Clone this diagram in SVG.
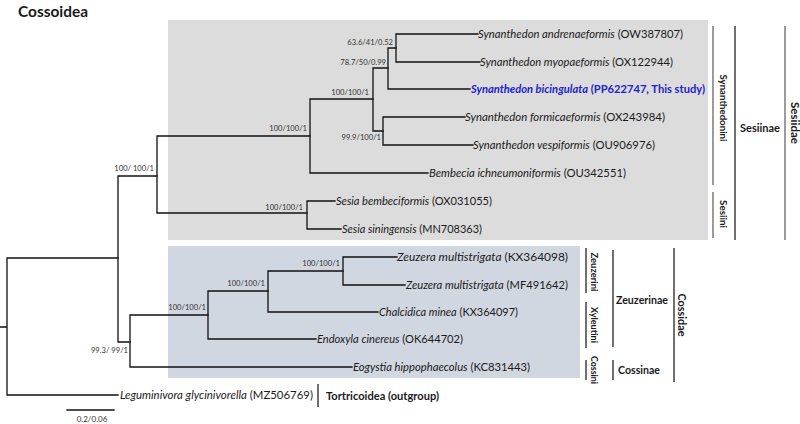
<svg xmlns="http://www.w3.org/2000/svg" width="800" height="424" viewBox="0 0 800 424">
<style>
text{font-family:Lato,"Open Sans","Liberation Sans",sans-serif;fill:#1a1a1a}
.leaf{font-size:11.3px}
.sp{font-style:italic}
.sup{font-size:7.6px;fill:#333}
.grp{font-size:11.5px;font-weight:bold}
.trb{font-size:9.5px;font-weight:bold}
.edge{stroke:#111;stroke-width:1.3;fill:none;stroke-linecap:square}
.bar{stroke:#222;stroke-width:1.3}
.barg{stroke:#666;stroke-width:1.3}
</style>
<rect x="0" y="0" width="800" height="424" fill="#fff"/>
<text x="18" y="17" style="font-size:15.5px;font-weight:bold" textLength="70" lengthAdjust="spacingAndGlyphs">Cossoidea</text>
<rect id="box-sesiidae" x="168" y="20" width="540" height="220" fill="#dcdcdc"/>
<rect id="box-cossidae" x="168" y="246" width="412" height="132" fill="#d1d7e1"/>

<g id="connectors" class="edge">
<path d="M0,327H7M7,258V395M7,258H118M7,395H118"/>
<path d="M118,176V342M118,176H157M118,342H130"/>
<path d="M157,136V213M157,136H310M157,213H307"/>
<path d="M310,99V173M310,99H373M310,173H428"/>
<path d="M373,68V131M373,68H388M373,131H383"/>
<path d="M388,48V89M388,48H396M388,89H470"/>
<path d="M396,34V62M396,34H478M396,62H480"/>
<path d="M383,117V145M383,117H465M383,145H473"/>
<path d="M307,201V229M307,201H335M307,229H341"/>
<path d="M130,315V367M130,315H208M130,367H352"/>
<path d="M208,291V339M208,291H268M208,339H316"/>
<path d="M268,271V312M268,271H343M268,312H378"/>
<path d="M343,257V285M343,257H397M343,285H405"/>
<path d="M67,410H114"/>
</g>

<g id="support-labels">
<text class="sup" x="393" y="45" text-anchor="end">63.6/41/0.52</text>
<text class="sup" x="386" y="65" text-anchor="end">78.7/50/0.99</text>
<text class="sup" x="369" y="95" text-anchor="end">100/100/1</text>
<text class="sup" x="381" y="140" text-anchor="end">99.9/100/1</text>
<text class="sup" x="307" y="131" text-anchor="end">100/100/1</text>
<text class="sup" x="154" y="171" text-anchor="end">100/ 100/1</text>
<text class="sup" x="303" y="210" text-anchor="end">100/100/1</text>
<text class="sup" x="340" y="266" text-anchor="end">100/100/1</text>
<text class="sup" x="265" y="286" text-anchor="end">100/100/1</text>
<text class="sup" x="206" y="310" text-anchor="end">100/100/1</text>
<text class="sup" x="128" y="353" text-anchor="end">99.3/ 99/1</text>
<text class="sup" x="92" y="422" text-anchor="middle" style="font-size:8px">0.2/0.06</text>
</g>

<g id="leaf-andrenaeformis"><text class="leaf" x="478" y="38" textLength="205" lengthAdjust="spacingAndGlyphs"><tspan class="sp">Synanthedon andrenaeformis</tspan> (OW387807)</text></g>
<g id="leaf-myopaeformis"><text class="leaf" x="480" y="66" textLength="193" lengthAdjust="spacingAndGlyphs"><tspan class="sp">Synanthedon myopaeformis</tspan> (OX122944)</text></g>
<g id="leaf-bicingulata"><text class="leaf" x="471" y="93" textLength="234" lengthAdjust="spacingAndGlyphs" style="font-weight:bold;fill:#2222c8"><tspan class="sp">Synanthedon bicingulata</tspan> (PP622747, This study)</text></g>
<g id="leaf-formicaeformis"><text class="leaf" x="465" y="121" textLength="200" lengthAdjust="spacingAndGlyphs"><tspan class="sp">Synanthedon formicaeformis</tspan> (OX243984)</text></g>
<g id="leaf-vespiformis"><text class="leaf" x="473" y="149" textLength="182" lengthAdjust="spacingAndGlyphs"><tspan class="sp">Synanthedon vespiformis</tspan> (OU906976)</text></g>
<g id="leaf-bembecia"><text class="leaf" x="429" y="177" textLength="197" lengthAdjust="spacingAndGlyphs"><tspan class="sp">Bembecia ichneumoniformis</tspan> (OU342551)</text></g>
<g id="leaf-sesia-bembeciformis"><text class="leaf" x="336" y="205" textLength="156" lengthAdjust="spacingAndGlyphs"><tspan class="sp">Sesia bembeciformis</tspan> (OX031055)</text></g>
<g id="leaf-sesia-siningensis"><text class="leaf" x="342" y="233" textLength="140" lengthAdjust="spacingAndGlyphs"><tspan class="sp">Sesia siningensis</tspan> (MN708363)</text></g>
<g id="leaf-zeuzera-1"><text class="leaf" x="397" y="261" textLength="171" lengthAdjust="spacingAndGlyphs"><tspan class="sp">Zeuzera multistrigata</tspan> (KX364098)</text></g>
<g id="leaf-zeuzera-2"><text class="leaf" x="406" y="289" textLength="162" lengthAdjust="spacingAndGlyphs"><tspan class="sp">Zeuzera multistrigata</tspan> (MF491642)</text></g>
<g id="leaf-chalcidica"><text class="leaf" x="379" y="316" textLength="139" lengthAdjust="spacingAndGlyphs"><tspan class="sp">Chalcidica minea</tspan> (KX364097)</text></g>
<g id="leaf-endoxyla"><text class="leaf" x="317" y="343" textLength="146" lengthAdjust="spacingAndGlyphs"><tspan class="sp">Endoxyla cinereus</tspan> (OK644702)</text></g>
<g id="leaf-eogystia"><text class="leaf" x="353" y="371" textLength="177" lengthAdjust="spacingAndGlyphs"><tspan class="sp">Eogystia hippophaecolus</tspan> (KC831443)</text></g>
<g id="leaf-leguminivora"><text class="leaf" x="120" y="399" textLength="193" lengthAdjust="spacingAndGlyphs"><tspan class="sp">Leguminivora glycinivorella</tspan> (MZ506769)</text></g>

<g id="outgroup-label">
<line class="bar" x1="318" y1="384" x2="318" y2="407"/>
<text class="grp" x="326" y="400" textLength="113" lengthAdjust="spacingAndGlyphs">Tortricoidea (outgroup)</text>
</g>

<g id="tribe-synanthedonini">
<line class="barg" x1="713" y1="26" x2="713" y2="185"/>
<text class="trb" transform="translate(723,108) rotate(90)" text-anchor="middle" dominant-baseline="central" textLength="67" lengthAdjust="spacingAndGlyphs">Synanthedonini</text>
</g>
<g id="tribe-sesiini">
<line class="barg" x1="713" y1="192" x2="713" y2="238"/>
<text class="trb" transform="translate(723,214) rotate(90)" text-anchor="middle" dominant-baseline="central" textLength="28" lengthAdjust="spacingAndGlyphs">Sesiini</text>
</g>
<g id="subfamily-sesiinae">
<line class="bar" x1="735" y1="26" x2="735" y2="240"/>
<text class="grp" x="740" y="132" textLength="40" lengthAdjust="spacingAndGlyphs">Sesiinae</text>
</g>
<g id="family-sesiidae">
<line class="barg" x1="785" y1="26" x2="785" y2="240"/>
<text class="grp" transform="translate(795,123) rotate(90)" text-anchor="middle" dominant-baseline="central" textLength="42" lengthAdjust="spacingAndGlyphs">Sesiidae</text>
</g>

<g id="tribe-zeuzerini">
<line class="bar" x1="586" y1="248" x2="586" y2="293"/>
<text class="trb" transform="translate(594,272) rotate(90)" text-anchor="middle" dominant-baseline="central" textLength="39" lengthAdjust="spacingAndGlyphs">Zeuzerini</text>
</g>
<g id="tribe-xyleutini">
<line class="bar" x1="586" y1="302" x2="586" y2="348"/>
<text class="trb" transform="translate(594,325) rotate(90)" text-anchor="middle" dominant-baseline="central" textLength="36" lengthAdjust="spacingAndGlyphs">Xyleutini</text>
</g>
<g id="tribe-cossini">
<line class="bar" x1="586" y1="360" x2="586" y2="380"/>
<text class="trb" transform="translate(594,370) rotate(90)" text-anchor="middle" dominant-baseline="central" textLength="28" lengthAdjust="spacingAndGlyphs">Cossini</text>
</g>
<g id="subfamily-zeuzerinae">
<line class="bar" x1="613" y1="250" x2="613" y2="347"/>
<text class="grp" x="616" y="304" textLength="52" lengthAdjust="spacingAndGlyphs">Zeuzerinae</text>
</g>
<g id="subfamily-cossinae">
<line class="bar" x1="613" y1="360" x2="613" y2="380"/>
<text class="grp" x="618" y="374" textLength="42" lengthAdjust="spacingAndGlyphs">Cossinae</text>
</g>
<g id="family-cossidae">
<line class="bar" x1="674" y1="248" x2="674" y2="382"/>
<text class="grp" transform="translate(682,315) rotate(90)" text-anchor="middle" dominant-baseline="central" textLength="43" lengthAdjust="spacingAndGlyphs">Cossidae</text>
</g>
</svg>
